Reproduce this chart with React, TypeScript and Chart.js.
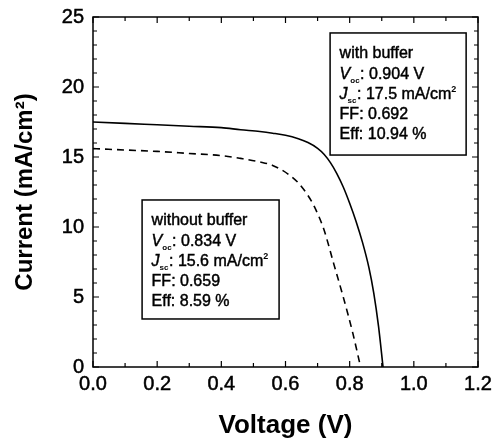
import React, { useEffect, useRef } from "react";
import { Chart, registerables } from "chart.js";

Chart.register(...registerables);

// ---- data ----
const voltageWith = [0, 0.1, 0.2, 0.3, 0.4, 0.46, 0.52, 0.56, 0.6, 0.64, 0.67, 0.7, 0.72, 0.74, 0.76, 0.78, 0.8, 0.82, 0.84, 0.86, 0.875, 0.89, 0.904];
const currentWith = [17.5, 17.4, 17.3, 17.2, 17.1, 16.95, 16.82, 16.7, 16.55, 16.3, 16.03, 15.62, 15.2, 14.6, 13.82, 12.86, 11.7, 10.4, 8.9, 7.1, 5.3, 2.9, 0];

const voltageWithout = [0, 0.1, 0.2, 0.3, 0.4, 0.46, 0.52, 0.56, 0.61, 0.64, 0.67, 0.69, 0.72, 0.75, 0.78, 0.81, 0.834];
const currentWithout = [15.6, 15.5, 15.4, 15.25, 15.1, 14.9, 14.65, 14.4, 13.75, 13.15, 12.25, 11.45, 9.8, 7.4, 5.0, 2.4, 0];

const xTicks = [0, 0.2, 0.4, 0.6, 0.8, 1.0, 1.2];
const yTicks = [0, 5, 10, 15, 20, 25];

// box corners in data units: [xMin, xMax, yMin, yMax]
const boxWith = [0.739, 1.163, 15.14, 23.86];
const boxWithout = [0.153, 0.58, 3.43, 11.93];

// text lines: segments [text, kind] kind: n normal, i italic, b subscript, p superscript
const linesWith: [string, string][][] = [
  [["with buffer", "n"]],
  [["V", "i"], ["oc", "b"], [": 0.904 V", "n"]],
  [["J", "i"], ["sc", "b"], [": 17.5 mA/cm", "n"], ["2", "p"]],
  [["FF: 0.692", "n"]],
  [["Eff: 10.94 %", "n"]],
];
const linesWithout: [string, string][][] = [
  [["without buffer", "n"]],
  [["V", "i"], ["oc", "b"], [": 0.834 V", "n"]],
  [["J", "i"], ["sc", "b"], [": 15.6 mA/cm", "n"], ["2", "p"]],
  [["FF: 0.659", "n"]],
  [["Eff: 8.59 %", "n"]],
];

const FONT = "'Liberation Sans', Arial, sans-serif";

function drawBox(ctx: CanvasRenderingContext2D, xs: any, ys: any, box: number[], lines: [string, string][][]) {
  const x0 = xs.getPixelForValue(box[0]);
  const x1 = xs.getPixelForValue(box[1]);
  const y0 = ys.getPixelForValue(box[3]);
  const y1 = ys.getPixelForValue(box[2]);
  ctx.save();
  ctx.fillStyle = "#fff";
  ctx.fillRect(x0, y0, x1 - x0, y1 - y0);
  ctx.strokeStyle = "#000";
  ctx.lineWidth = 1.5;
  ctx.strokeRect(x0, y0, x1 - x0, y1 - y0);
  ctx.fillStyle = "#000";
  ctx.textBaseline = "alphabetic";
  ctx.textAlign = "left";
  ctx.lineWidth = 0.45;
  const lineH = 20.3;
  let by = y0 + 25.3;
  for (const line of lines) {
    let cx = x0 + 9.5;
    for (const [t, k] of line) {
      let dy = 0;
      if (k === "i") ctx.font = `italic 16px ${FONT}`;
      else if (k === "b") { ctx.font = `bold 8px ${FONT}`; dy = 4; }
      else if (k === "p") { ctx.font = `bold 9px ${FONT}`; dy = -7; }
      else ctx.font = `16px ${FONT}`;
      ctx.fillText(t, cx, by + dy);
      if (k === "n" || k === "i") ctx.strokeText(t, cx, by + dy);
      cx += ctx.measureText(t).width + (k === "b" ? 0.5 : 0);
    }
    by += lineH;
  }
  ctx.restore();
}

const framePlugin = {
  id: "frame",
  afterDatasetsDraw(chart: any) {
    const { ctx, chartArea: a, scales } = chart;
    const xs = scales.x;
    const ys = scales.y;
    ctx.save();
    ctx.strokeStyle = "#000";
    ctx.lineWidth = 1.5;
    ctx.strokeRect(a.left, a.top, a.right - a.left, a.bottom - a.top);
    ctx.lineWidth = 1.2;
    ctx.beginPath();
    for (let i = 0; i <= 12; i++) {
      const v = i / 10;
      const px = xs.getPixelForValue(v);
      const len = i % 2 === 0 ? 6 : 4;
      ctx.moveTo(px, a.bottom); ctx.lineTo(px, a.bottom - len);
      ctx.moveTo(px, a.top); ctx.lineTo(px, a.top + len);
    }
    for (let j = 0; j <= 25; j++) {
      const py = ys.getPixelForValue(j);
      const len = j % 5 === 0 ? 6 : 4;
      ctx.moveTo(a.left, py); ctx.lineTo(a.left + len, py);
      ctx.moveTo(a.right, py); ctx.lineTo(a.right - len, py);
    }
    ctx.stroke();
    ctx.restore();
    drawBox(ctx, xs, ys, boxWith, linesWith);
    drawBox(ctx, xs, ys, boxWithout, linesWithout);
  },
};

export default function App() {
  const ref = useRef<HTMLCanvasElement>(null);
  useEffect(() => {
    if (!ref.current) return;
    Chart.defaults.color = "#000";
    const chart = new Chart(ref.current, {
      type: "scatter",
      data: {
        datasets: [
          {
            label: "with buffer",
            data: voltageWith.map((v, i) => ({ x: v, y: currentWith[i] })),
            showLine: true,
            borderColor: "#000",
            borderWidth: 1.6,
            pointRadius: 0,
            cubicInterpolationMode: "monotone",
          },
          {
            label: "without buffer",
            data: voltageWithout.map((v, i) => ({ x: v, y: currentWithout[i] })),
            showLine: true,
            borderColor: "#000",
            borderWidth: 1.6,
            borderDash: [7, 5],
            pointRadius: 0,
            cubicInterpolationMode: "monotone",
          },
        ],
      },
      options: {
        responsive: false,
        animation: false,
        layout: { padding: { left: 0, right: 16, top: 17, bottom: 0 } },
        plugins: { legend: { display: false }, tooltip: { enabled: false } },
        scales: {
          x: {
            type: "linear",
            min: 0,
            max: 1.2,
            afterFit: (s: any) => { s.height = 75; s.paddingLeft = 0; s.paddingRight = 0; },
            afterBuildTicks: (s: any) => { s.ticks = xTicks.map((v) => ({ value: v })); },
            grid: { display: false, drawTicks: false },
            border: { display: false },
            ticks: {
              padding: 5,
              color: "#000",
              textStrokeColor: "#000",
              textStrokeWidth: 0.5,
              font: { family: FONT, size: 20 },
              callback: (v: any) => Number(v).toFixed(1),
            },
            title: {
              display: true,
              text: "Voltage (V)",
              color: "#000",
              font: { family: FONT, size: 26, weight: "bold" },
              padding: { top: 0, bottom: 1 },
            },
          },
          y: {
            type: "linear",
            min: 0,
            max: 25,
            afterFit: (s: any) => { s.width = 93; s.paddingTop = 0; s.paddingBottom = 0; },
            afterBuildTicks: (s: any) => { s.ticks = yTicks.map((v) => ({ value: v })); },
            grid: { display: false, drawTicks: false },
            border: { display: false },
            ticks: {
              padding: 9,
              color: "#000",
              textStrokeColor: "#000",
              textStrokeWidth: 0.5,
              font: { family: FONT, size: 20 },
            },
            title: {
              display: true,
              text: "Current (mA/cm²)",
              color: "#000",
              font: { family: FONT, size: 24, weight: "bold" },
              padding: { top: 11, bottom: 0 },
            },
          },
        },
      },
      plugins: [framePlugin],
    } as any);
    return () => chart.destroy();
  }, []);
  return (
    <div style={{ position: "absolute", left: 0, top: 0, width: 494, height: 442, background: "#fff" }}>
      <canvas ref={ref} width={494} height={442} />
    </div>
  );
}
